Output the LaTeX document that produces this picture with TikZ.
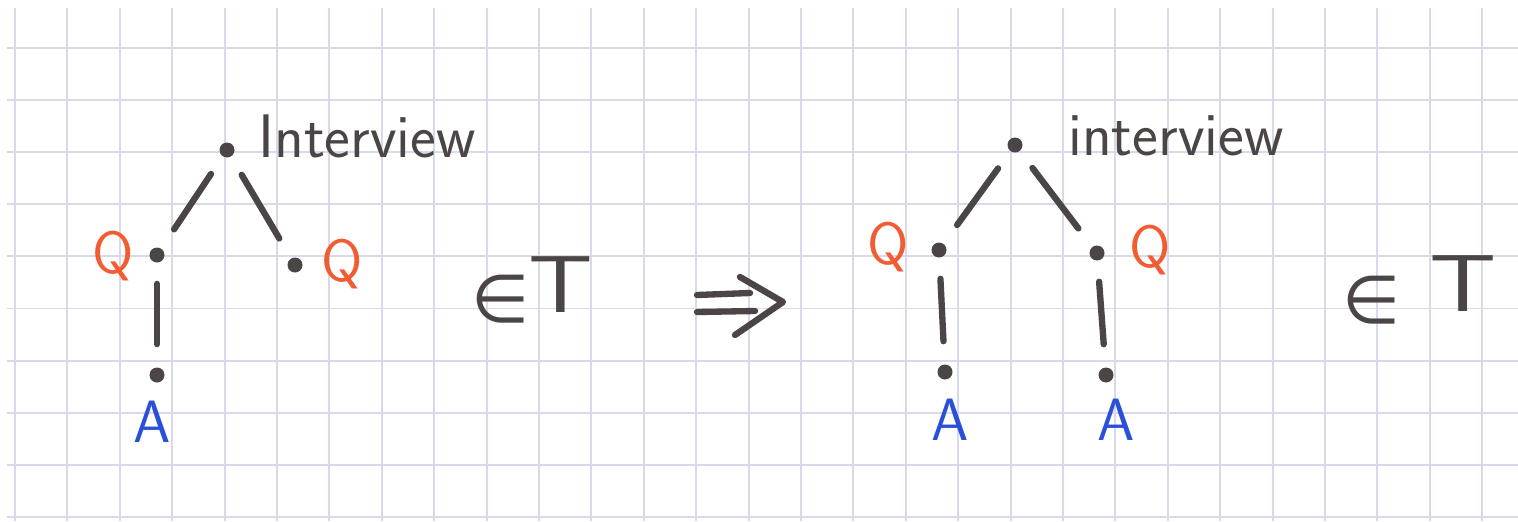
\documentclass[tikz,border=0pt]{standalone}
\usepackage{fontspec}
\usepackage{tikz}
\usetikzlibrary{positioning}
\newfontfamily\memfont{DejaVu Sans}
\definecolor{inkGray}{HTML}{4B4545}
\definecolor{penRed}{HTML}{F25C33}
\definecolor{penBlue}{HTML}{2B50D8}
\definecolor{paperGrid}{HTML}{D9D9EA}

\begin{document}
\begin{tikzpicture}[x=0.02cm,y=-0.02cm,
    gridline/.style={draw=paperGrid,line width=1.1pt},
    dot/.style={circle,fill=inkGray,inner sep=0pt,minimum size=0.3cm},
    edge/.style={draw=inkGray,line width=3.6pt,line cap=round,
                 shorten <=0.42cm,shorten >=0.46cm},
    qlbl/.style={font=\fontsize{34}{36}\selectfont\sffamily,text=penRed},
    albl/.style={font=\fontsize{34}{36}\selectfont\sffamily,text=penBlue},
    rootlbl/.style={font=\fontsize{35}{37}\selectfont\sffamily,text=inkGray,
                    anchor=base west,inner sep=0pt},
    memlbl/.style={font=\fontsize{38}{40}\selectfont\memfont,text=inkGray,inner sep=0pt},
    typelbl/.style={font=\fontsize{46}{48}\selectfont\sffamily,text=inkGray,inner sep=0pt},
    stroke/.style={draw=inkGray,line width=3.6pt,line cap=round,line join=round}
  ]
  % Paper
  \useasboundingbox (0,0) rectangle (1518,521);
  \fill[white] (0,0) rectangle (1518,521);
  \foreach \i in {0,...,28}
    \draw[gridline] ({15+52.4*\i},8) -- ({15+52.4*\i},521);
  \foreach \j in {0,...,9}
    \draw[gridline] (7,{48+52.1*\j}) -- (1518,{48+52.1*\j});
  % Left tree
  \node[dot] (root1) at (227,150) {};
  \node[dot] (qa1)   at (157,255) {};
  \node[dot] (qb1)   at (295,265) {};
  \node[dot] (ans1)  at (157,375) {};
  \node[rootlbl] at (258,157) {Interview};
  \node[qlbl] at (113,256) {Q};
  \node[qlbl] at (342,264) {Q};
  \node[albl] at (152,422) {A};
  \draw[edge] (root1) -- (qa1);
  \draw[edge] (root1) -- (qb1);
  \draw[edge] (qa1) -- (ans1);
  \node[memlbl]  (elem1) at (501,299) {∈};
  \node[typelbl,xscale=1.25] (type1) at (561,285) {T};
  % Rewrite arrow
  \draw[stroke] (697,295) -- (750,293);
  \draw[stroke] (697,312) -- (755,311);
  \draw[stroke] (740,277) -- (783,302) -- (735,335);
  % Right tree
  \node[dot] (root2) at (1015,145) {};
  \node[dot] (qa2)   at (939,250) {};
  \node[dot] (qb2)   at (1097,253) {};
  \node[dot] (ans2)  at (945,372) {};
  \node[dot] (ansb2) at (1106,375) {};
  \node[rootlbl] at (1068,155) {interview};
  \node[qlbl] at (888,247) {Q};
  \node[qlbl] at (1150,250) {Q};
  \node[albl] at (950,420) {A};
  \node[albl] at (1116,420) {A};
  \draw[edge] (root2) -- (qa2);
  \draw[edge] (root2) -- (qb2);
  \draw[edge] (qa2) -- (ans2);
  \draw[edge] (qb2) -- (ansb2);
  \node[memlbl]  (elem2) at (1372,300) {∈};
  \node[typelbl,xscale=1.3] (type2) at (1463,284) {T};
\end{tikzpicture}
\end{document}
